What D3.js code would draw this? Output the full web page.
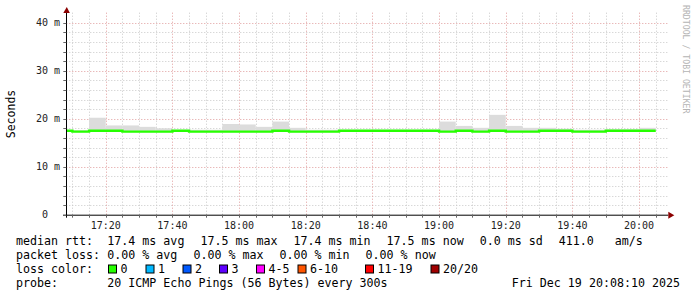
<!DOCTYPE html>
<html>
<head>
<meta charset="utf-8">
<script src="https://cdn.jsdelivr.net/npm/d3@7"></script>
<style>
  body { margin: 0; background: #fff; }
  svg text { font-family: "DejaVu Sans Mono", monospace; }
</style>
</head>
<body>
<svg id="chart"></svg>
<script>
// 5 minute steps, each value covers the 300s ending at the given time
const endTimes = ["17:10","17:15","17:20","17:25","17:30","17:35","17:40","17:45","17:50","17:55",
                  "18:00","18:05","18:10","18:15","18:20","18:25","18:30","18:35","18:40","18:45",
                  "18:50","18:55","19:00","19:05","19:10","19:15","19:20","19:25","19:30","19:35",
                  "19:40","19:45","19:50","19:55","20:00","20:05"];
const medianRtt = [17.5,17.3,17.5,17.5,17.3,17.3,17.3,17.5,17.3,17.3,
                   17.3,17.3,17.3,17.5,17.3,17.3,17.3,17.5,17.5,17.5,
                   17.5,17.5,17.5,17.3,17.5,17.3,17.5,17.3,17.3,17.5,
                   17.5,17.3,17.3,17.5,17.5,17.5];
const smokeMin = [17.3,17.2,17.3,17.3,17.2,17.2,17.2,17.3,17.2,17.2,
                  17.2,17.2,17.2,17.3,17.2,17.2,17.2,17.3,17.3,17.3,
                  17.3,17.3,17.3,17.2,17.3,17.2,17.3,17.2,17.2,17.3,
                  17.3,17.2,17.2,17.3,17.3,17.3];
const smokeMax = [17.6,17.6,20.2,18.6,18.6,18.3,18.0,17.7,17.7,17.7,
                  18.9,18.8,18.3,19.4,18.1,17.7,17.7,17.7,17.7,17.7,
                  17.7,17.7,17.7,19.4,18.5,18.1,20.8,18.5,18.1,18.1,
                  17.9,17.7,17.7,17.8,17.8,18.1];

const yTicks = [0, 10, 20, 30, 40];
const timeTicks = ["17:20","17:40","18:00","18:20","18:40","19:00","19:20","19:40","20:00"];

const lossLabels = ["0","1","2","3","4-5","6-10","11-19","20/20"];
const lossColors = ["#26ff00","#00b8ff","#0059ff","#5e00ff","#ff00ff","#ff5500","#ff0000","#a00000"];

const rttItems = ["17.4 ms avg","17.5 ms max","17.4 ms min","17.5 ms now","0.0 ms sd","411.0   am/s"];
const lossItemsText = ["0.00 % avg","0.00 % max","0.00 % min","0.00 % now"];
const probeText = "20 ICMP Echo Pings (56 Bytes) every 300s";
const rowLabels = ["median rtt:","packet loss:","loss color:","probe:"];
const stampText = "Fri Dec 19 20:08:10 2025";

const startTime = new Date(2025, 11, 19, 17, 8, 10);
const endTime = new Date(2025, 11, 19, 20, 8, 10);
const toDate = s => { const [h, m] = s.split(":").map(Number); return new Date(2025, 11, 19, h, m, 0); };

const W = 697, H = 297;
const pLeft = 66.3, pRight = 666.3, pTop = 14.7, pBottom = 214.7;

const svg = d3.select("#chart").attr("width", W).attr("height", H);
svg.append("rect").attr("width", W).attr("height", H).attr("fill", "#fff");

const x = d3.scaleTime().domain([startTime, endTime]).range([pLeft, pRight]);
const y = d3.scaleLinear().domain([0, 200 / 4.8]).range([pBottom, pTop]);

svg.append("clipPath").attr("id", "plot")
  .append("rect").attr("x", pLeft).attr("y", pTop).attr("width", pRight - pLeft).attr("height", pBottom - pTop);

// grid
const minorTimes = d3.timeMinute.every(5).range(startTime, endTime);
const majorTimes = timeTicks.map(toDate);
const grid = svg.append("g");
grid.selectAll(".vminor").data(minorTimes.filter(t => t.getMinutes() % 20 !== 0)).enter().append("line")
  .attr("x1", d => Math.round(x(d)) + 0.5).attr("x2", d => Math.round(x(d)) + 0.5)
  .attr("y1", pTop - 2).attr("y2", pBottom)
  .attr("stroke", "#c8c8c8").attr("stroke-dasharray", "1,2");
grid.selectAll(".hminor").data(d3.range(2, 42, 2).filter(v => v % 10 !== 0)).enter().append("line")
  .attr("x1", pLeft).attr("x2", pRight + 2)
  .attr("y1", d => Math.round(y(d)) + 0.5).attr("y2", d => Math.round(y(d)) + 0.5)
  .attr("stroke", "#c8c8c8").attr("stroke-dasharray", "1,2");
grid.selectAll(".vmajor").data(majorTimes).enter().append("line")
  .attr("x1", d => Math.round(x(d)) + 0.5).attr("x2", d => Math.round(x(d)) + 0.5)
  .attr("y1", pTop - 2).attr("y2", pBottom)
  .attr("stroke", "#e09c9c").attr("stroke-dasharray", "1,2");
grid.selectAll(".hmajor").data(yTicks.filter(v => v > 0)).enter().append("line")
  .attr("x1", pLeft).attr("x2", pRight + 2)
  .attr("y1", d => Math.round(y(d)) + 0.5).attr("y2", d => Math.round(y(d)) + 0.5)
  .attr("stroke", "#e09c9c").attr("stroke-dasharray", "1,2");

// smoke and median line
const plot = svg.append("g").attr("clip-path", "url(#plot)");
const steps = endTimes.map((t, i) => ({
  end: toDate(t), start: d3.timeMinute.offset(toDate(t), -5),
  med: medianRtt[i], lo: smokeMin[i], hi: smokeMax[i]
}));
plot.selectAll(".smoke").data(steps).enter().append("rect")
  .attr("x", d => x(d.start)).attr("width", d => x(d.end) - x(d.start))
  .attr("y", d => y(d.hi)).attr("height", d => y(d.lo) - y(d.hi))
  .attr("fill", "#dcdcdc");

const linePts = steps.flatMap(d => [[d.start, d.med], [d.end, d.med]]);
plot.append("path")
  .datum(linePts)
  .attr("fill", "none")
  .attr("stroke", lossColors[0])
  .attr("stroke-width", 2.4)
  .attr("d", d3.line().x(d => x(d[0])).y(d => y(d[1])));

// axes
const axisCol = "#000", arrowCol = "#8b0000";
svg.append("line").attr("x1", 63).attr("x2", pRight + 2).attr("y1", pBottom + 0.5).attr("y2", pBottom + 0.5)
  .attr("stroke", axisCol);
svg.append("line").attr("x1", pLeft + 0.2).attr("x2", pLeft + 0.2).attr("y1", pBottom + 3).attr("y2", 11)
  .attr("stroke", axisCol);
svg.append("path").attr("d", `M${pLeft - 3},${13} L${pLeft + 0.5},${7} L${pLeft + 3.5},${13} Z`).attr("fill", arrowCol);
svg.append("path").attr("d", `M${pRight + 2},${pBottom - 3} L${pRight + 8},${pBottom + 0.5} L${pRight + 2},${pBottom + 4} Z`).attr("fill", arrowCol);

// tick marks
svg.selectAll(".xtick").data(minorTimes).enter().append("line")
  .attr("x1", d => Math.round(x(d)) + 0.5).attr("x2", d => Math.round(x(d)) + 0.5)
  .attr("y1", pBottom).attr("y2", pBottom + 3)
  .attr("stroke", "#666");
svg.selectAll(".ytick").data(d3.range(0, 42, 2)).enter().append("line")
  .attr("x1", pLeft - 3).attr("x2", pLeft)
  .attr("y1", d => Math.round(y(d)) + 0.5).attr("y2", d => Math.round(y(d)) + 0.5)
  .attr("stroke", "#666");

// tick labels
svg.selectAll(".ylab").data(yTicks).enter().append("text")
  .attr("x", d => d === 0 ? 48 : 60)
  .attr("y", d => y(d) + 3.5)
  .attr("text-anchor", "end")
  .style("font-size", "10px")
  .attr("fill", "#222")
  .text(d => d === 0 ? "0" : d + " m");

svg.selectAll(".xlab").data(majorTimes).enter().append("text")
  .attr("x", d => x(d))
  .attr("y", 228.5)
  .attr("text-anchor", "middle")
  .style("font-size", "10px")
  .attr("fill", "#222")
  .text(d => d3.timeFormat("%H:%M")(d));

svg.append("text")
  .attr("transform", "translate(15,114) rotate(-90)")
  .attr("text-anchor", "middle")
  .style("font-size", "11.5px")
  .text("Seconds");

svg.append("text")
  .attr("transform", "translate(683,5) rotate(90)")
  .attr("text-anchor", "start")
  .style("font-size", "8.2px")
  .attr("fill", "#b4b4b4")
  .text("RRDTOOL / TOBI OETIKER");

// legend, items separated by a fixed gap like rrdtool does
const legendY = [245, 259, 273, 287];
const fs = "11.65px", col2 = 107.3, gap = 16;
svg.selectAll(".rowlab").data(rowLabels).enter().append("text")
  .attr("x", 16).attr("y", (d, i) => legendY[i])
  .style("font-size", fs)
  .text(d => d);

function itemRow(items, rowY) {
  let cx = col2;
  items.forEach(t => {
    const el = svg.append("text")
      .attr("x", cx).attr("y", rowY)
      .style("font-size", fs)
      .style("white-space", "pre")
      .text(t);
    cx += el.node().getComputedTextLength() + gap;
  });
}
itemRow(rttItems, legendY[0]);
itemRow(lossItemsText, legendY[1]);
itemRow([probeText], legendY[3]);

svg.append("text")
  .attr("x", 680).attr("y", legendY[3])
  .attr("text-anchor", "end")
  .style("font-size", fs)
  .text(stampText);

const boxX = [108, 145.5, 182.5, 219, 256, 297.5, 365, 430.5];
const lossItems = svg.selectAll(".loss").data(lossLabels).enter().append("g")
  .attr("transform", (d, i) => `translate(${boxX[i]},${264.5})`);
lossItems.append("rect")
  .attr("x", 0.5).attr("y", 0.5).attr("width", 8).attr("height", 8)
  .attr("fill", (d, i) => lossColors[i])
  .attr("stroke", "#000");
lossItems.append("text")
  .attr("x", 12.5).attr("y", 8.5)
  .style("font-size", fs)
  .text(d => d);
</script>
</body>
</html>
